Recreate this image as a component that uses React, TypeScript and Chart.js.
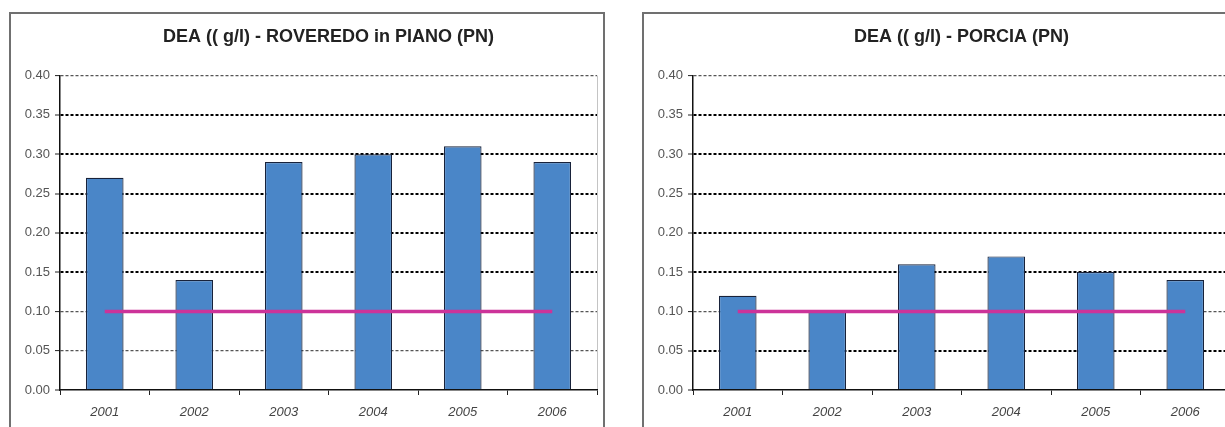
import React, { FC, useEffect, useRef } from 'react';
import { Chart, registerables } from 'chart.js';

Chart.register(...registerables);

const years = ['2001', '2002', '2003', '2004', '2005', '2006'];
const roveredoDea = [0.27, 0.14, 0.29, 0.30, 0.31, 0.29];
const porciaDea = [0.12, 0.10, 0.16, 0.17, 0.15, 0.14];
const limitLine = [0.1, 0.1, 0.1, 0.1, 0.1, 0.1];
const roveredoTitle = 'DEA (( g/l) - ROVEREDO in PIANO (PN)';
const porciaTitle = 'DEA (( g/l) - PORCIA (PN)';
// gridlines that look lighter in the scan
const roveredoLight = [0.4, 0.1, 0.05];
const porciaLight = [0.4, 0.1];

interface PanelProps {
    title: string;
    values: number[];
    light: number[];
    left: number;
}

const Panel: FC<PanelProps> = ({ title, values, light, left }) => {
    const chartRef = useRef<HTMLCanvasElement | null>(null);

    useEffect(() => {
        const ctx = chartRef.current?.getContext('2d');
        if (!ctx) return;
        const isLight = (c: any) => {
            const v = c.tick ? c.tick.value : 0;
            return light.some((l) => Math.abs(l - v) < 1e-6);
        };
        const chart = new Chart(ctx, {
            type: 'bar',
            data: {
                labels: years,
                datasets: [
                    {
                        type: 'line',
                        data: limitLine,
                        borderColor: '#cc3399',
                        borderWidth: 3.5,
                        pointRadius: 0,
                        fill: false,
                        order: 0,
                    },
                    {
                        type: 'bar',
                        data: values,
                        backgroundColor: '#4a86c8',
                        borderColor: '#18223a',
                        borderWidth: 1.2,
                        barPercentage: 0.42,
                        categoryPercentage: 1,
                        order: 1,
                    },
                ],
            },
            options: {
                animation: false,
                responsive: true,
                maintainAspectRatio: false,
                layout: { padding: { left: 0, right: 6, top: 0, bottom: 0 } },
                plugins: {
                    legend: { display: false },
                    tooltip: { enabled: false },
                    title: {
                        display: true,
                        text: title,
                        fullSize: false,
                        color: '#222',
                        font: { family: 'Liberation Sans', size: 18, weight: 'bold', lineHeight: 1.2 },
                        padding: { top: 12, bottom: 28 },
                    },
                },
                scales: {
                    x: {
                        offset: true,
                        afterFit: (s: any) => { s.height = 44; },
                        grid: {
                            offset: true,
                            drawOnChartArea: true,
                            drawTicks: true,
                            tickLength: 5,
                            tickColor: '#222',
                            tickWidth: 1,
                            color: (c: any) => (c.type === 'tick' ? 'rgba(0,0,0,0)' : '#c4c4c4'),
                            lineWidth: 1,
                        },
                        border: { display: true, color: '#111', width: 1.5 },
                        ticks: {
                            color: '#444',
                            padding: 10,
                            font: { family: 'Liberation Sans', size: 13, style: 'italic' },
                        },
                    },
                    y: {
                        min: 0,
                        max: 0.4,
                        afterFit: (s: any) => { s.width = 49; },
                        grid: {
                            drawTicks: true,
                            tickLength: 5,
                            tickColor: '#222',
                            tickBorderDash: [],
                            tickWidth: 1,
                            color: (c: any) => {
                                const v = c.tick ? c.tick.value : 0;
                                if (v === 0) return 'rgba(0,0,0,0)';
                                return isLight(c) ? '#555' : '#000';
                            },
                            lineWidth: (c: any) => (isLight(c) ? 1.2 : 2),
                        },
                        border: { display: true, color: '#111', width: 1.5, dash: [3, 2] },
                        ticks: {
                            stepSize: 0.05,
                            padding: 5,
                            color: '#555',
                            font: { family: 'Liberation Sans', size: 13 },
                            callback: (v: any) => Number(v).toFixed(2),
                        },
                    },
                },
            },
        });

        return () => {
            chart.destroy();
        };
    }, [title, values, light]);

    return (
        <div
            style={{
                position: 'absolute',
                left,
                top: 12,
                width: 592,
                height: 440,
                border: '2px solid #707070',
                background: '#fff',
            }}
        >
            <div style={{ position: 'absolute', left: 0, top: 0, width: 592, height: 420 }}>
                <canvas ref={chartRef}></canvas>
            </div>
        </div>
    );
};

const App: FC = () => {
    return (
        <div
            style={{
                position: 'fixed',
                left: 0,
                top: 0,
                width: 1225,
                height: 427,
                overflow: 'hidden',
                background: '#fff',
            }}
        >
            <Panel title={roveredoTitle} values={roveredoDea} light={roveredoLight} left={9} />
            <Panel title={porciaTitle} values={porciaDea} light={porciaLight} left={642} />
        </div>
    );
};

export default App;
